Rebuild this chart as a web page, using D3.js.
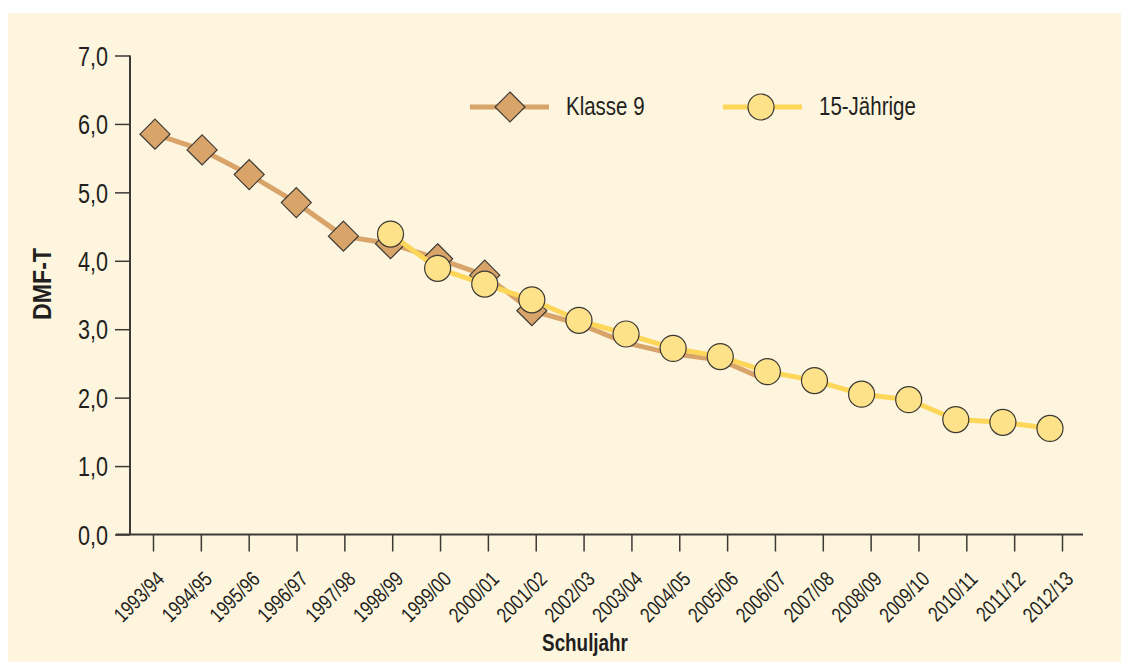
<!DOCTYPE html>
<html>
<head>
<meta charset="utf-8">
<script src="https://cdn.jsdelivr.net/npm/d3@7"></script>
<style>
  body { margin: 0; background: #fff; }
  svg text { font-family: "Liberation Sans", Arial, sans-serif; fill: #231f20; }
</style>
</head>
<body>
<div id="chart"></div>
<script>
const years = ["1993/94", "1994/95", "1995/96", "1996/97", "1997/98", "1998/99", "1999/00",
  "2000/01", "2001/02", "2002/03", "2003/04", "2004/05", "2005/06", "2006/07", "2007/08",
  "2008/09", "2009/10", "2010/11", "2011/12", "2012/13"];

// Klasse 9 (Diamanten bis 2001/02, danach nur Linie)
const klasse9 = [5.85, 5.62, 5.26, 4.85, 4.36, 4.25, 4.03, 3.79, 3.27, 3.08, 2.80, 2.64, 2.55, 2.25,
  null, null, null, null, null, null];
const klasse9LastMarker = "2001/02";

// 15-Jährige
const jaehrige15 = [null, null, null, null, null, 4.39, 3.89, 3.66, 3.43, 3.13, 2.93, 2.72, 2.60, 2.38,
  2.25, 2.05, 1.97, 1.68, 1.64, 1.55];

const yTicks = [0, 1, 2, 3, 4, 5, 6, 7];
const seriesNames = ["Klasse 9", "15-Jährige"];

const width = 1121;
const height = 662;
const brown = "#d8a469";
const yellow = "#fdd65a";
const circleFill = "#fee28a";
const ink = "#3d3935";

// squeeze text horizontally (condensed look), keeping its anchor point
function narrow(sel, k = 0.82) {
  sel.each(function () {
    const t = d3.select(this);
    const x = +t.attr("x") || 0;
    t.attr("x", x / k);
    const tr = t.attr("transform") || "";
    t.attr("transform", `${tr} scale(${k},1)`);
  });
}

const svg = d3.select("#chart").append("svg").attr("width", width).attr("height", height);

svg.append("rect")
  .attr("x", 8).attr("y", 13)
  .attr("width", width - 8).attr("height", height - 13)
  .attr("fill", "#fdf5de");

const y = d3.scaleLinear().domain([0, 7]).range([534.5, 55.5]);
const xTick = d3.scalePoint().domain(years).range([153, 1062]);
const xMark = d3.scalePoint().domain(years).range([155, 1050]);

const de = d3.formatLocale({ decimal: ",", thousands: ".", grouping: [3], currency: ["", " €"] });
const fmt = de.format(".1f");

// y axis
const yAxis = svg.append("g")
  .attr("transform", "translate(130,0)")
  .call(d3.axisLeft(y).tickValues(yTicks).tickFormat(fmt).tickSize(15).tickPadding(7).tickSizeOuter(0));
yAxis.select(".domain").remove();
yAxis.selectAll("line").attr("stroke", ink).attr("stroke-width", 1.5);
yAxis.selectAll("text").style("font-size", "27px").attr("dy", "0.36em").call(narrow, 0.8);
svg.append("line")
  .attr("x1", 130).attr("x2", 130)
  .attr("y1", y(7)).attr("y2", y(0))
  .attr("stroke", ink).attr("stroke-width", 2);

// x axis
const xAxis = svg.append("g")
  .attr("transform", `translate(0,${y(0)})`)
  .call(d3.axisBottom(xTick).tickSize(17).tickSizeOuter(0));
xAxis.select(".domain").remove();
xAxis.selectAll("line").attr("stroke", ink).attr("stroke-width", 1.5);
xAxis.selectAll("text")
  .style("font-size", "21px")
  .attr("text-anchor", "end")
  .attr("dy", null)
  .attr("y", 0)
  .attr("x", 0)
  .attr("transform", "translate(12,46) rotate(-45)")
  .call(narrow, 0.8);
svg.append("line")
  .attr("x1", 116).attr("x2", 1083)
  .attr("y1", y(0)).attr("y2", y(0))
  .attr("stroke", ink).attr("stroke-width", 2);

// axis titles
svg.append("text")
  .attr("x", 585).attr("y", 651)
  .attr("text-anchor", "middle")
  .style("font-size", "23px").style("font-weight", "bold")
  .text("Schuljahr")
  .call(narrow, 0.82);
svg.append("text")
  .attr("transform", "translate(51,284) rotate(-90)")
  .attr("text-anchor", "middle")
  .style("font-size", "26px").style("font-weight", "bold")
  .text("DMF-T")
  .call(narrow, 0.89);

const line = d3.line()
  .defined((d) => d.v !== null)
  .x((d) => xMark(d.year))
  .y((d) => y(d.v));

const k9 = years.map((year, i) => ({ year, v: klasse9[i] }));
const j15 = years.map((year, i) => ({ year, v: jaehrige15[i] }));

const diamond = (s) => `M0,${-s}L${s},0L0,${s}L${-s},0Z`;

svg.append("path").datum(k9).attr("d", line)
  .attr("fill", "none").attr("stroke", brown).attr("stroke-width", 5).attr("stroke-linejoin", "round");

const lastIdx = years.indexOf(klasse9LastMarker);
svg.append("g").selectAll("path")
  .data(k9.filter((d, i) => d.v !== null && i <= lastIdx))
  .enter().append("path")
  .attr("transform", (d) => `translate(${xMark(d.year)},${y(d.v)})`)
  .attr("d", diamond(15))
  .attr("fill", brown).attr("stroke", ink).attr("stroke-width", 1.2);

svg.append("path").datum(j15).attr("d", line)
  .attr("fill", "none").attr("stroke", yellow).attr("stroke-width", 5).attr("stroke-linejoin", "round");

svg.append("g").selectAll("circle")
  .data(j15.filter((d) => d.v !== null))
  .enter().append("circle")
  .attr("cx", (d) => xMark(d.year))
  .attr("cy", (d) => y(d.v))
  .attr("r", 13)
  .attr("fill", circleFill).attr("stroke", ink).attr("stroke-width", 1.2);

// legend
const legend = svg.append("g").attr("transform", "translate(470,107)");
const items = legend.selectAll("g").data(seriesNames).enter().append("g")
  .attr("transform", (d, i) => `translate(${i * 253},0)`);
items.append("line")
  .attr("x1", 0).attr("x2", 79)
  .attr("stroke", (d, i) => (i === 0 ? brown : yellow))
  .attr("stroke-width", 5);
items.each(function (d, i) {
  const g = d3.select(this);
  if (i === 0) {
    g.append("path").attr("transform", "translate(40,0)").attr("d", diamond(15))
      .attr("fill", brown).attr("stroke", ink).attr("stroke-width", 1.2);
  } else {
    g.append("circle").attr("cx", 38).attr("r", 13)
      .attr("fill", circleFill).attr("stroke", ink).attr("stroke-width", 1.2);
  }
});
items.append("text")
  .attr("x", 96)
  .attr("y", 8)
  .style("font-size", "25px")
  .text((d) => d)
  .call(narrow, 0.82);
</script>
</body>
</html>
